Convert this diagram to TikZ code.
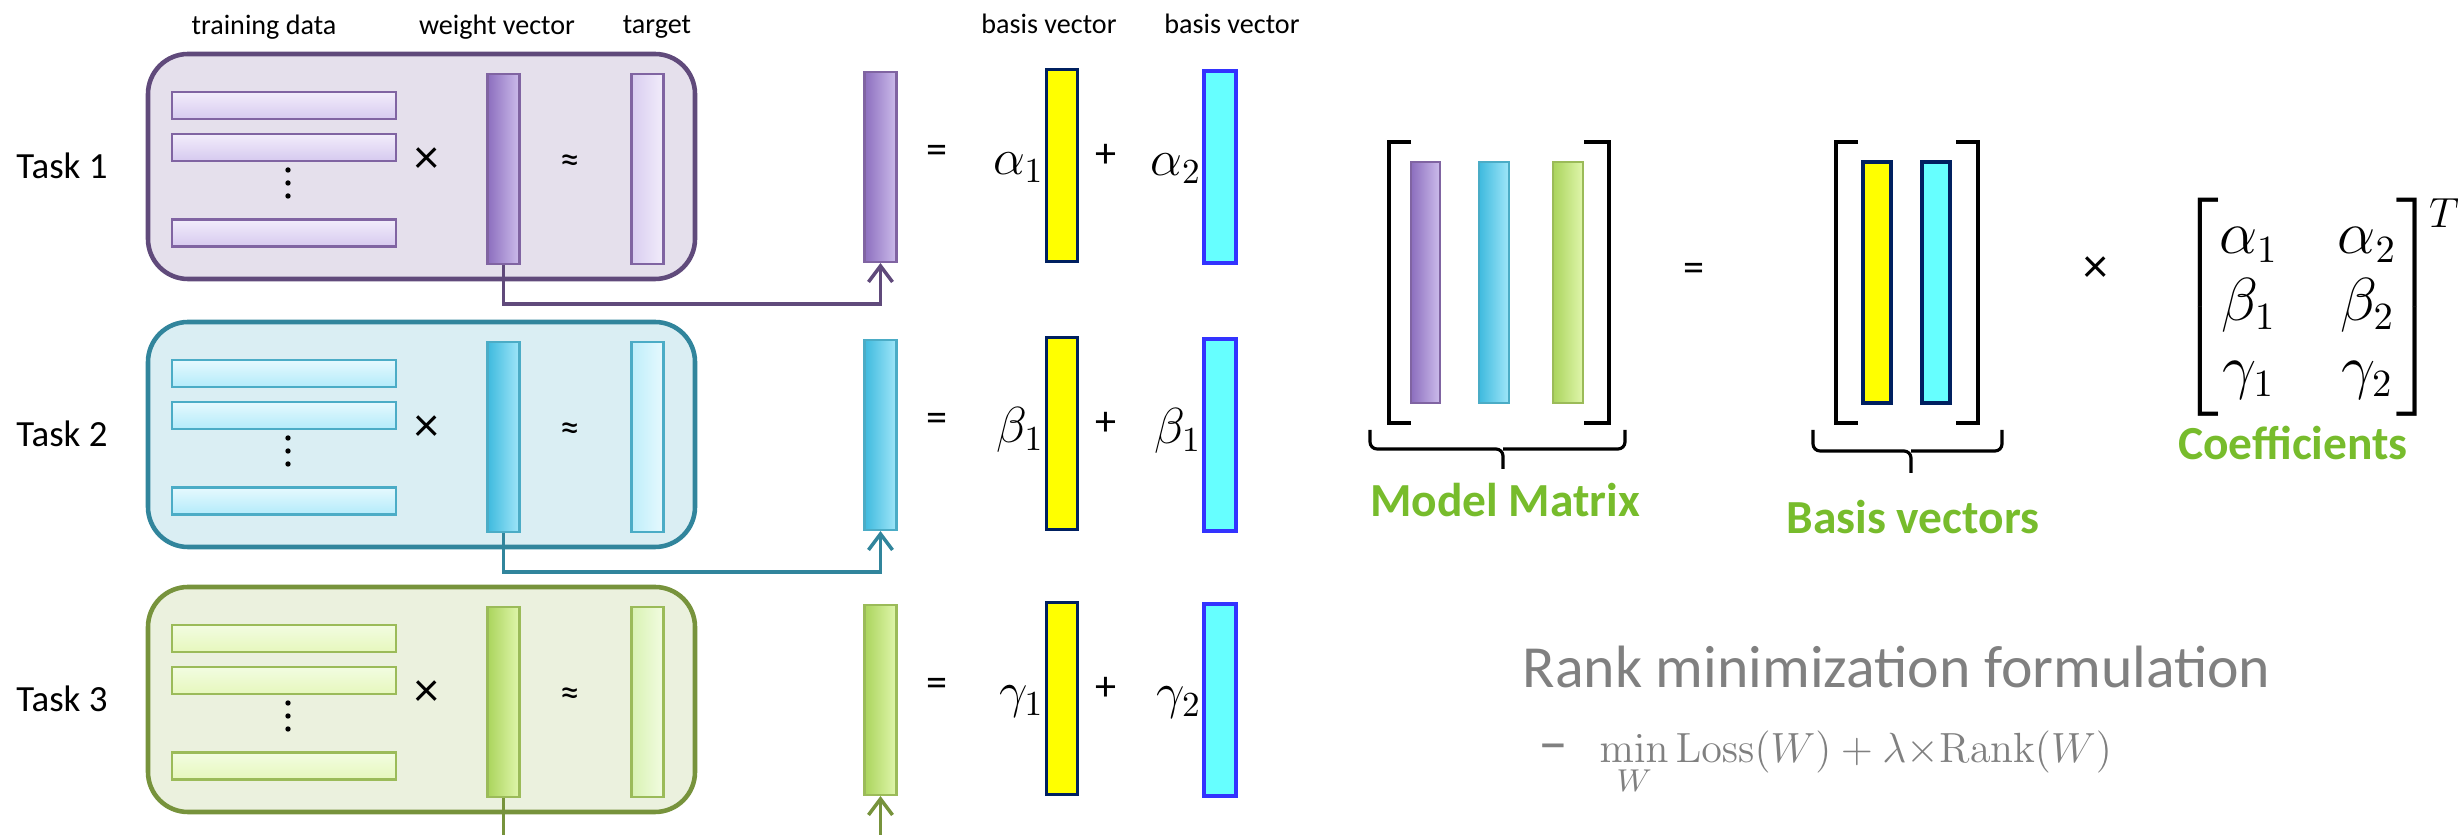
\documentclass[tikz,border=0pt]{standalone}
\usepackage{amsmath}
\usepackage[no-math]{fontspec}
\setmainfont{Carlito}
\usetikzlibrary{positioning, arrows.meta}

% colours of the three tasks (1 purple, 2 blue, 3 green)
\definecolor{line1}{RGB}{96,74,123}
\definecolor{fill1}{RGB}{229,224,236}
\definecolor{edge1}{RGB}{128,100,162}
\definecolor{dark1}{RGB}{140,110,190}
\definecolor{light1}{RGB}{204,188,235}
\definecolor{pale1}{RGB}{216,204,240}
\definecolor{white1}{RGB}{242,237,251}
\definecolor{line2}{RGB}{49,133,156}
\definecolor{fill2}{RGB}{218,238,243}
\definecolor{edge2}{RGB}{75,172,198}
\definecolor{dark2}{RGB}{62,186,222}
\definecolor{light2}{RGB}{160,230,249}
\definecolor{pale2}{RGB}{190,238,250}
\definecolor{white2}{RGB}{230,249,254}
\definecolor{line3}{RGB}{119,147,60}
\definecolor{fill3}{RGB}{235,241,222}
\definecolor{edge3}{RGB}{155,187,89}
\definecolor{dark3}{RGB}{170,212,92}
\definecolor{light3}{RGB}{224,246,172}
\definecolor{pale3}{RGB}{216,242,178}
\definecolor{white3}{RGB}{242,252,225}
% basis vectors and text
\definecolor{basisY}{RGB}{255,255,0}
\definecolor{basisC}{RGB}{102,255,255}
\definecolor{navy}{RGB}{0,32,96}
\definecolor{brightblue}{RGB}{51,51,255}
\definecolor{keygreen}{RGB}{119,188,44}
\definecolor{textgray}{RGB}{128,128,128}

\begin{document}
\begin{tikzpicture}[
    lbl/.style={font=\fontsize{8}{10}\selectfont, inner sep=1pt},
    tasklbl/.style={font=\fontsize{10.5}{12}\selectfont},
    op/.style={font=\fontsize{12}{14}\selectfont, inner sep=0pt},
    coef/.style={font=\fontsize{14}{16}\selectfont, inner sep=0pt, anchor=base east},
    taskbox/.style={
        draw=line#1, fill=fill#1, line width=1.3pt, rounded corners=0.4cm,
        minimum width=5.47cm, minimum height=2.25cm, inner sep=0pt
    },
    vbar/.style={draw=edge#1, line width=0.6pt, inner sep=0pt,
        minimum width=0.32cm, minimum height=1.9cm},
    hbar/.style={draw=edge#1, line width=0.6pt, inner sep=0pt,
        top color=white#1, bottom color=light#1!80!white,
        minimum width=2.24cm, minimum height=0.27cm},
    wbar/.style={vbar=#1, left color=dark#1, right color=light#1},
    tbar/.style={vbar=#1, left color=pale#1, right color=white#1},
    ybas/.style={draw=navy, line width=1pt, fill=basisY, inner sep=0pt,
        minimum width=0.31cm, minimum height=1.92cm},
    cbas/.style={draw=brightblue, line width=1pt, fill=basisC, inner sep=0pt,
        minimum width=0.32cm, minimum height=1.92cm},
    arr/.style={-{Straight Barb[length=1.6mm, width=2.4mm]}, line width=1pt, draw=line#1},
    brk/.style={line width=0.9pt},
    brc/.style={line width=0.9pt, rounded corners=2pt},
    note/.style={font=\fontsize{13.5}{16}\selectfont\bfseries, text=keygreen},
]
\useasboundingbox (0,0) rectangle (24.58,-8.35);

% Column headings
\node[lbl] (datal) at (2.64,-0.27) {training data};
\node[lbl] (weightl) at (4.97,-0.27) {weight vector};
\node[lbl] (targetl) at (6.57,-0.27) {target};
\node[lbl] (basisl1) at (10.49,-0.24) {basis vector};
\node[lbl] (basisl2) at (12.32,-0.24) {basis vector};

% Task rows: data x weight = target, weight split into two basis vectors
\foreach \i/\ty/\ca/\cb in {1/0.54/\alpha_1/\alpha_2, 2/3.22/\beta_1/\beta_1, 3/5.87/\gamma_1/\gamma_2} {
  \begin{scope}[yshift=-\ty cm]
    \node[taskbox=\i] (box\i) at (4.215,-1.125) {};
    \node[tasklbl] (task\i) at (0.62,-1.12) {Task \i};
    \node[hbar=\i] (xa\i) at (2.84,-0.515) {};
    \node[hbar=\i] (xb\i) at (2.84,-0.935) {};
    \node[hbar=\i] (xn\i) at (2.84,-1.79) {};
    \foreach \d in {1.16,1.29,1.42} \fill (2.88,-\d) circle (0.027);
    \node[op, font=\fontsize{14}{16}\selectfont] (times\i) at (4.27,-1.07) {×};
    \node[wbar=\i] (w\i) at (5.035,-1.15) {};
    \node[op, font=\fontsize{11}{13}\selectfont] (approx\i) at (5.70,-1.10) {≈};
    \node[tbar=\i] (t\i) at (6.475,-1.15) {};
    \node[wbar=\i] (r\i) at (8.805,-1.13) {};
    \node[op] (eq\i) at (9.37,-1.00) {=};
    \node[ybas] (y\i) at (10.62,-1.115) {};
    \node[coef] (ca\i) at ([yshift=-0.09cm]y\i.west) {$\ca$};
    \node[op] (plus\i) at (11.06,-1.02) {+};
    \node[cbas] (c\i) at (12.20,-1.13) {};
    \node[coef] (cb\i) at ([yshift=-0.09cm]c\i.west) {$\cb$};
    \draw[arr=\i] (w\i.south) -- ++(0,-0.39) -| (r\i.south);
  \end{scope}
}

% Model matrix
\node[wbar=1, minimum width=0.29cm, minimum height=2.41cm] (m1) at (14.255,-2.825) {};
\node[wbar=2, minimum width=0.30cm, minimum height=2.41cm] (m2) at (14.94,-2.825) {};
\node[wbar=3, minimum width=0.30cm, minimum height=2.41cm] (m3) at (15.68,-2.825) {};
\draw[brk] (14.11,-1.42) -- (13.89,-1.42) -- (13.89,-4.23) -- (14.11,-4.23);
\draw[brk] (15.84,-1.42) -- (16.09,-1.42) -- (16.09,-4.23) -- (15.84,-4.23);
\draw[brc] (13.70,-4.30) -- (13.70,-4.49) -- (15.03,-4.49) -- (15.03,-4.69);
\draw[brc] (15.03,-4.49) -- (16.25,-4.49) -- (16.25,-4.30);
\node[note] (modelm) at (15.05,-5.00) {Model Matrix};

\node[op] (eqm) at (16.94,-2.72) {=};

% Basis vectors
\node[ybas, minimum width=0.28cm, minimum height=2.41cm] (b1) at (18.77,-2.825) {};
\node[cbas, draw=navy, minimum width=0.28cm, minimum height=2.41cm] (b2) at (19.36,-2.825) {};
\draw[brk] (18.58,-1.42) -- (18.36,-1.42) -- (18.36,-4.23) -- (18.58,-4.23);
\draw[brk] (19.56,-1.42) -- (19.78,-1.42) -- (19.78,-4.23) -- (19.56,-4.23);
\draw[brc] (18.13,-4.30) -- (18.13,-4.51) -- (19.11,-4.51) -- (19.11,-4.73);
\draw[brc] (19.11,-4.51) -- (20.02,-4.51) -- (20.02,-4.30);
\node[note] (basisv) at (19.13,-5.17) {Basis vectors};

% Coefficients
\node[op, font=\fontsize{14}{16}\selectfont] (timesm) at (20.96,-2.70) {×};
\node[inner sep=0pt, font=\fontsize{16}{19}\selectfont] (coefm) at (23.08,-3.07)
    {\setlength{\arraycolsep}{8.5pt}$\begin{bmatrix}\alpha_1 & \alpha_2\\ \beta_1 & \beta_2\\ \gamma_1 & \gamma_2\end{bmatrix}$};
\node[inner sep=0pt, font=\fontsize{13}{15}\selectfont] (coeft) at (24.44,-2.13) {$T$};
\node[note] (coefl) at (22.93,-4.43) {Coefficients};

% Rank minimization
\node[anchor=west, inner sep=0pt, text=textgray, font=\fontsize{17}{20}\selectfont] (rankt) at (15.22,-6.67) {Rank minimization formulation};
\node[anchor=base, inner sep=0pt, text=textgray, font=\fontsize{17}{20}\selectfont] (dash) at (15.53,-7.63) {–};
\node[anchor=base west, inner sep=0pt, text=textgray, font=\fontsize{13}{16}\selectfont] (rankf) at (15.99,-7.63)
    {$\min\limits_W \mathrm{Loss}(W)+\lambda{\times}\mathrm{Rank}(W)$};

\end{tikzpicture}
\end{document}
